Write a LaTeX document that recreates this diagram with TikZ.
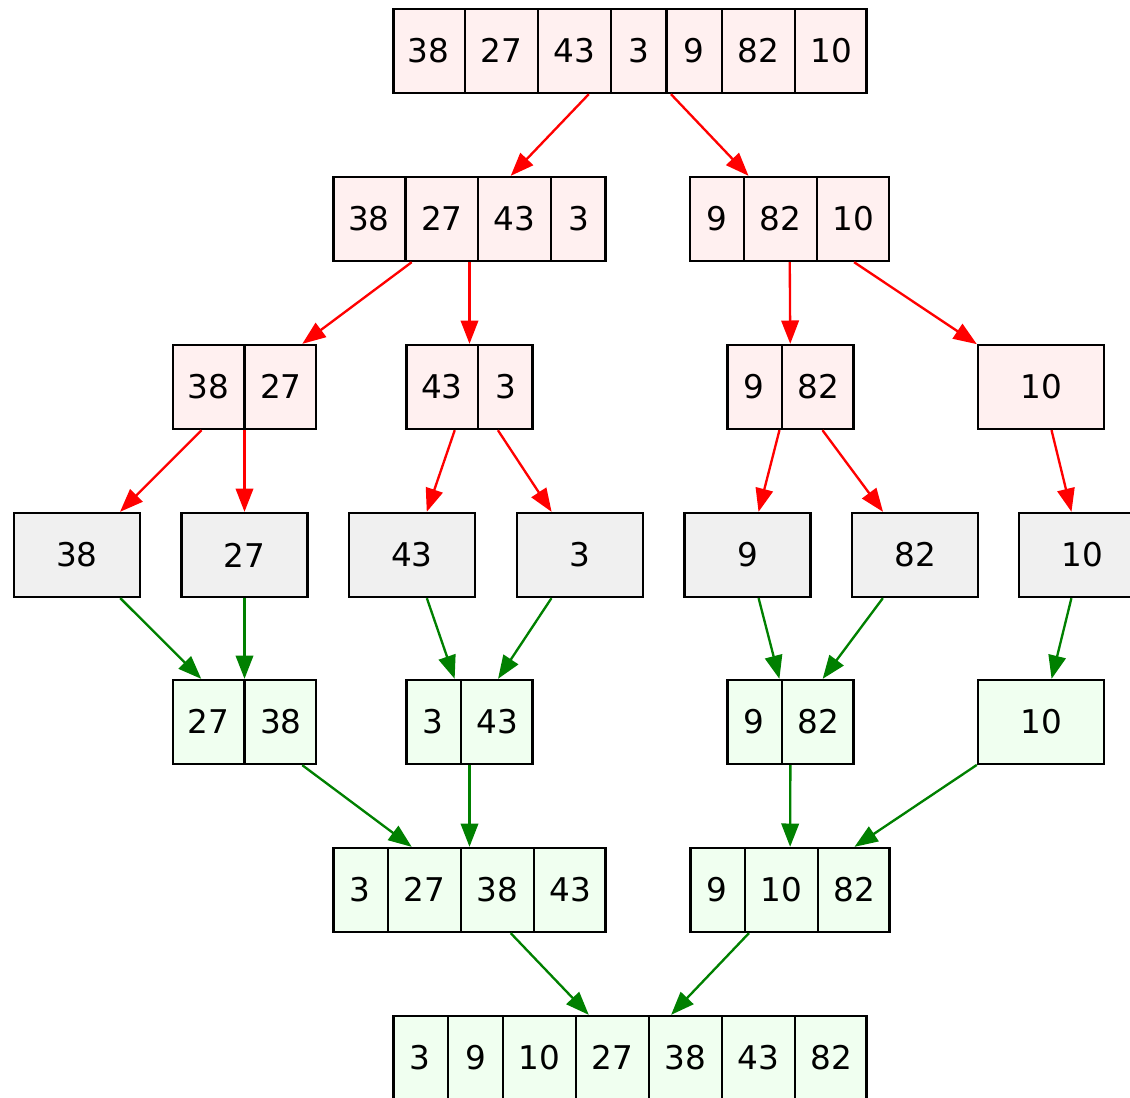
\documentclass[tikz,border=0pt]{standalone}
\usepackage{fontspec}
\setmainfont{DejaVu Sans}
\usetikzlibrary{arrows.meta,shapes}
\definecolor{splitfill}{HTML}{FFF0F0}
\definecolor{leaffill}{HTML}{F0F0F0}
\definecolor{mergefill}{HTML}{F0FFF0}
\definecolor{mergeline}{RGB}{0,128,0}
\newcommand\cellnum[1]{\ifnum#1<10 \makebox[22.75pt]{\rule[-12.9pt]{0pt}{36pt}#1}\else\makebox[30.25pt]{\rule[-12.9pt]{0pt}{36pt}#1}\fi}
\tikzset{
  rec/.style={rectangle split, rectangle split horizontal, draw, black, line width=1pt, inner sep=0pt},
  onebox/.style={rectangle, draw, black, line width=1pt, inner sep=0pt, minimum width=54pt, minimum height=36pt},
  splitcell/.style={fill=splitfill},
  leafcell/.style={fill=leaffill},
  mergecell/.style={fill=mergefill},
  halveedge/.style={red, line width=1pt, -{Triangle[length=10pt,width=7.5pt]}},
  mergeedge/.style={mergeline, line width=1pt, -{Triangle[length=10pt,width=7.5pt]}}
}
\begin{document}
\begin{tikzpicture}[x=0.42857pt, y=-0.42857pt, font=\fontsize{14}{17}\selectfont]
\useasboundingbox (0,0) rectangle (1130,1097);
\node[rec, splitcell, rectangle split parts=7] (all) at (630,51)
{\cellnum{38}%
\nodepart{two}\cellnum{27}%
\nodepart{three}\cellnum{43}%
\nodepart{four}\cellnum{3}%
\nodepart{five}\cellnum{9}%
\nodepart{six}\cellnum{82}%
\nodepart{seven}\cellnum{10}%
};
\node[rec, splitcell, rectangle split parts=4] (l) at (469.5,219)
{\cellnum{38}%
\nodepart{two}\cellnum{27}%
\nodepart{three}\cellnum{43}%
\nodepart{four}\cellnum{3}%
};
\node[rec, splitcell, rectangle split parts=3] (r) at (789.5,219)
{\cellnum{9}%
\nodepart{two}\cellnum{82}%
\nodepart{three}\cellnum{10}%
};
\node[rec, splitcell, rectangle split parts=2] (ll) at (244.5,387)
{\cellnum{38}%
\nodepart{two}\cellnum{27}%
};
\node[rec, splitcell, rectangle split parts=2] (lr) at (469.5,387)
{\cellnum{43}%
\nodepart{two}\cellnum{3}%
};
\node[rec, splitcell, rectangle split parts=2] (rl) at (790.5,387)
{\cellnum{9}%
\nodepart{two}\cellnum{82}%
};
\node[onebox, splitcell] (rr) at (1041,387) {10};
\node[onebox, leafcell] (leaf38) at (77,555) {38};
\node[onebox, leafcell] (leaf27) at (244.5,555) {27};
\node[onebox, leafcell] (leaf43) at (412,555) {43};
\node[onebox, leafcell] (leaf3) at (580,555) {3};
\node[onebox, leafcell] (leaf9) at (747.5,555) {9};
\node[onebox, leafcell] (leaf82) at (915,555) {82};
\node[onebox, leafcell] (leaf10) at (1082,555) {10};
\node[rec, mergecell, rectangle split parts=2] (mll) at (244.5,722)
{\cellnum{27}%
\nodepart{two}\cellnum{38}%
};
\node[rec, mergecell, rectangle split parts=2] (mlr) at (469.5,722)
{\cellnum{3}%
\nodepart{two}\cellnum{43}%
};
\node[rec, mergecell, rectangle split parts=2] (mrl) at (790.5,722)
{\cellnum{9}%
\nodepart{two}\cellnum{82}%
};
\node[onebox, mergecell] (mrr) at (1041,722) {10};
\node[rec, mergecell, rectangle split parts=4] (ml) at (469.5,890)
{\cellnum{3}%
\nodepart{two}\cellnum{27}%
\nodepart{three}\cellnum{38}%
\nodepart{four}\cellnum{43}%
};
\node[rec, mergecell, rectangle split parts=3] (mr) at (790,890)
{\cellnum{9}%
\nodepart{two}\cellnum{10}%
\nodepart{three}\cellnum{82}%
};
\node[rec, mergecell, rectangle split parts=7] (sorted) at (630,1058)
{\cellnum{3}%
\nodepart{two}\cellnum{9}%
\nodepart{three}\cellnum{10}%
\nodepart{four}\cellnum{27}%
\nodepart{five}\cellnum{38}%
\nodepart{six}\cellnum{43}%
\nodepart{seven}\cellnum{82}%
};
\draw[halveedge] (all) -- (l);
\draw[halveedge] (all) -- (r);
\draw[halveedge] (l) -- (ll);
\draw[halveedge] (l) -- (lr);
\draw[halveedge] (r) -- (rl);
\draw[halveedge] (r) -- (rr);
\draw[halveedge] (ll) -- (leaf38);
\draw[halveedge] (ll) -- (leaf27);
\draw[halveedge] (lr) -- (leaf43);
\draw[halveedge] (lr) -- (leaf3);
\draw[halveedge] (rl) -- (leaf9);
\draw[halveedge] (rl) -- (leaf82);
\draw[halveedge] (rr) -- (leaf10);
\draw[mergeedge] (leaf38) -- (mll);
\draw[mergeedge] (leaf27) -- (mll);
\draw[mergeedge] (leaf43) -- (mlr);
\draw[mergeedge] (leaf3) -- (mlr);
\draw[mergeedge] (leaf9) -- (mrl);
\draw[mergeedge] (leaf82) -- (mrl);
\draw[mergeedge] (leaf10) -- (mrr);
\draw[mergeedge] (mll) -- (ml);
\draw[mergeedge] (mlr) -- (ml);
\draw[mergeedge] (mrl) -- (mr);
\draw[mergeedge] (mrr) -- (mr);
\draw[mergeedge] (ml) -- (sorted);
\draw[mergeedge] (mr) -- (sorted);
\end{tikzpicture}
\end{document}
